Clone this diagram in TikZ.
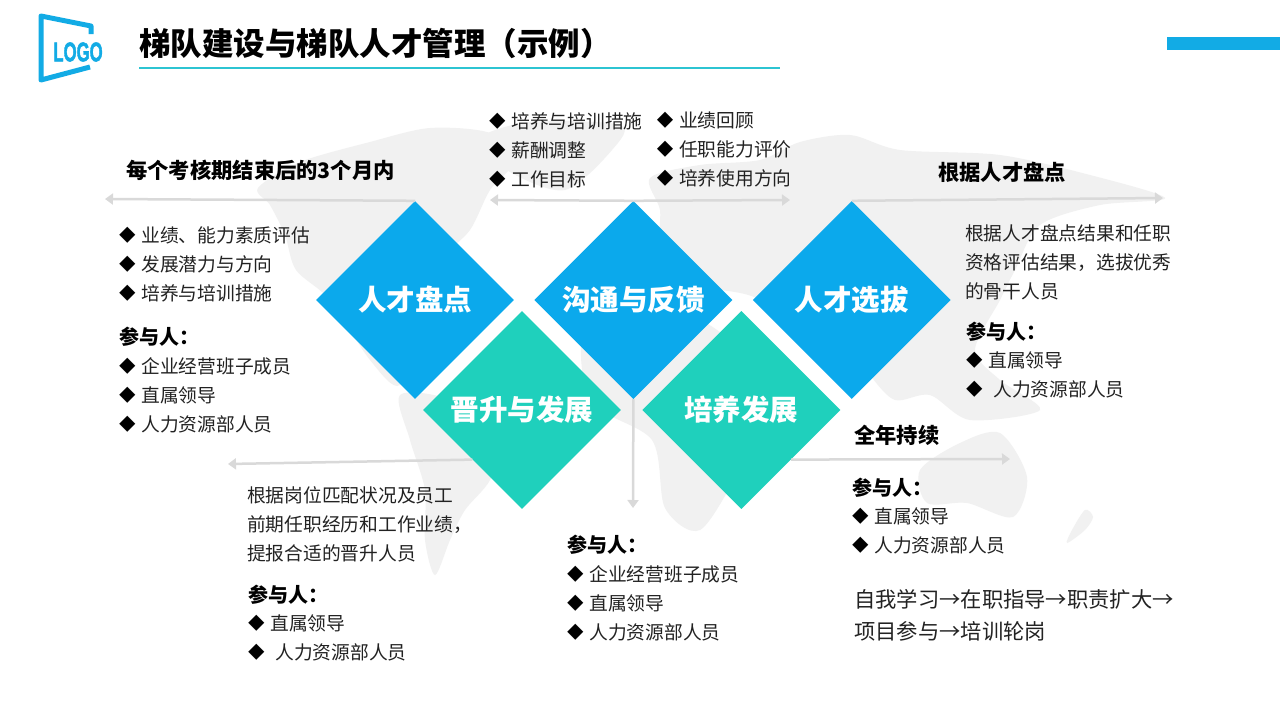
\documentclass[tikz,border=0pt]{standalone}
\usepackage{fontspec}
\setmainfont{Noto Sans CJK SC}
\newfontfamily\logofont[BoldFeatures={FakeBold=2}]{Liberation Sans}
\usetikzlibrary{arrows.meta,positioning,shapes.geometric}
\definecolor{skyblue}{HTML}{0BA9EC}
\definecolor{logoblue}{HTML}{12ABE5}
\definecolor{teal1}{HTML}{1FD0BC}
\definecolor{rulecyan}{HTML}{2CC4D2}
\definecolor{flowgray}{HTML}{D9D9D9}
\definecolor{landgray}{HTML}{F1F1F1}
\definecolor{bodyink}{HTML}{222222}
\newcommand{\bulitem}{\raisebox{1pt}{\textcolor{black}{\fontsize{16.5}{16.5}\selectfont ◆}}\hspace{5.6pt}}
\begin{document}
\begin{tikzpicture}[
  x=1pt, y=-1pt,
  land/.style={fill=landgray, draw=none},
  stage/.style={diamond, aspect=1, fill=#1, draw=none, inner sep=0pt,
    minimum width=198pt, minimum height=198pt, text=white,
    font=\fontsize{28.5}{32}\bfseries\selectfont},
  flow/.style={-{Triangle[length=8pt,width=11pt]}, line width=2.5pt, draw=flowgray},
  heading/.style={font=\fontsize{21.3}{26}\bfseries\selectfont, text=black, inner sep=0pt},
  who/.style={font=\fontsize{20}{26}\bfseries\selectfont, text=black, inner sep=0pt},
  listing/.style={font=\fontsize{18.75}{29}\selectfont, text=bodyink, align=left, inner sep=0pt}
]
  \useasboundingbox (0,0) rectangle (1280,720);
  \fill[white] (0,0) rectangle (1280,720);

  % world map behind everything
  \fill[land] plot[smooth cycle] coordinates {(258,188) (300,162) (370,142) (430,128) (490,133) (515,160) (490,190) (470,230) (440,262) (420,320) (400,385) (370,360) (330,300) (296,270) (285,235) (270,205)};
  \fill[land] plot[smooth cycle] coordinates {(478,140) (530,122) (620,125) (612,150) (565,190) (510,172)};
  \fill[land] plot[smooth cycle] coordinates {(400,395) (450,400) (500,440) (490,480) (465,510) (450,540) (435,575) (425,540) (425,490) (410,440)};
  \fill[land] plot[smooth cycle] coordinates {(650,178) (700,165) (760,160) (800,142) (850,135) (900,150) (1000,155) (1090,175) (1165,198) (1100,205) (1040,225) (1015,270) (1000,300) (975,350) (1000,380) (1040,410) (970,420) (930,395) (895,400) (870,375) (840,330) (800,340) (760,300) (720,290) (680,290) (660,250) (660,210)};
  \fill[land] plot[smooth cycle] coordinates {(590,320) (700,320) (780,400) (740,470) (700,530) (665,508) (652,440) (590,400)};
  \fill[land] plot[smooth cycle] coordinates {(920,470) (960,443) (1000,433) (1027,477) (1013,517) (967,503) (927,503)};
  \fill[land] plot[smooth cycle] coordinates {(1093,517) (1085,530) (1067,543) (1072,530) (1085,510)};

  % header
  \draw[logoblue, line width=5pt, line join=round] (91,34) -- (91,26) -- (41,16) -- (41,80) -- (90,67);
  \node[inner sep=0pt, text=logoblue, font=\logofont\fontsize{27}{27}\bfseries\selectfont, xscale=.62] (logo) at (78,52) {LOGO};
  \node[anchor=west, inner sep=0pt, text=black, font=\fontsize{31.5}{36}\bfseries\selectfont] (title) at (139,43) {梯队建设与梯队人才管理（示例）};
  \draw[rulecyan, line width=1.6pt] (139,68) -- (780,68);
  \fill[logoblue] (1167,37) rectangle (1280,50);

  % ends of the arrows
  \coordinate (reviewend) at (105,199);
  \coordinate (talkleft) at (490,200);
  \coordinate (talkright) at (790,200);
  \coordinate (talkend) at (633,508);
  \coordinate (pickend) at (1163,198);
  \coordinate (promoteend) at (228,464);
  \coordinate (growend) at (1010,459);

  % stages
  \node[stage=skyblue] (review) at (415,300) {人才盘点};
  \node[stage=skyblue, right=20pt of review] (talk) {沟通与反馈};
  \node[stage=skyblue, right=20pt of talk] (pick) {人才选拔};
  \node[stage=teal1] (promote) at (522,410) {晋升与发展};
  \node[stage=teal1, right=21pt of promote] (grow) {培养发展};

  \draw[flow] (review.north) -- (reviewend);
  \draw[flow] (talk.north) -- (talkleft);
  \draw[flow] (talk.north) -- (talkright);
  \draw[flow] (talk.south) -- (talkend);
  \draw[flow] (pick.north) -- (pickend);
  \draw[flow] (promote.south west) -- (promoteend);
  \draw[flow] (grow.south east) -- (growend);

  % left block
  \node[heading, anchor=west] (reviewhead) at (126,170) {每个考核期结束后的3个月内};
  \node[listing, anchor=north west] (reviewlist) at (119,227) {\bulitem 业绩、能力素质评估\\\bulitem 发展潜力与方向\\\bulitem 培养与培训措施};
  \node[who, anchor=west] (reviewwho) at (119,337) {参与人：};
  \node[listing, below=10pt of reviewwho.south west, anchor=north west] (reviewnames) {\bulitem 企业经营班子成员\\\bulitem 直属领导\\\bulitem 人力资源部人员};

  % top block
  \node[listing, anchor=north west] (talklist) at (489,112) {\bulitem 培养与培训措施\\\bulitem 薪酬调整\\\bulitem 工作目标};
  \node[listing, right=14pt of talklist] (talklist2) {\bulitem 业绩回顾\\\bulitem 任职能力评价\\\bulitem 培养使用方向};

  % right block
  \node[heading, anchor=west] (pickhead) at (938,172) {根据人才盘点};
  \node[listing, anchor=north west] (picktext) at (965,224) {根据人才盘点结果和任职\\资格评估结果，选拔优秀\\的骨干人员};
  \node[who, anchor=west] (pickwho) at (966,332) {参与人：};
  \node[listing, below=10pt of pickwho.south west, anchor=north west] (picknames) {\bulitem 直属领导\\\bulitem\hspace{5pt}人力资源部人员};

  % lower left block
  \node[listing, anchor=north west] (promotetext) at (247,486) {根据岗位匹配状况及员工\\前期任职经历和工作业绩，\\提报合适的晋升人员};
  \node[who, anchor=west] (promotewho) at (248,595) {参与人：};
  \node[listing, below=10pt of promotewho.south west, anchor=north west] (promotenames) {\bulitem 直属领导\\\bulitem\hspace{5pt}人力资源部人员};

  % lower middle block
  \node[who, anchor=west] (talkwho) at (567,545) {参与人：};
  \node[listing, below=10pt of talkwho.south west, anchor=north west] (talknames) {\bulitem 企业经营班子成员\\\bulitem 直属领导\\\bulitem 人力资源部人员};

  % lower right block
  \node[heading, anchor=west] (growhead) at (854,435) {全年持续};
  \node[who, anchor=west] (growwho) at (852,488) {参与人：};
  \node[listing, below=10pt of growwho.south west, anchor=north west] (grownames) {\bulitem 直属领导\\\bulitem 人力资源部人员};
  \node[listing, anchor=north west, font=\fontsize{21.3}{32}\selectfont] (growpath) at (854,589) {自我学习→在职指导→职责扩大→\\项目参与→培训轮岗};
\end{tikzpicture}
\end{document}
